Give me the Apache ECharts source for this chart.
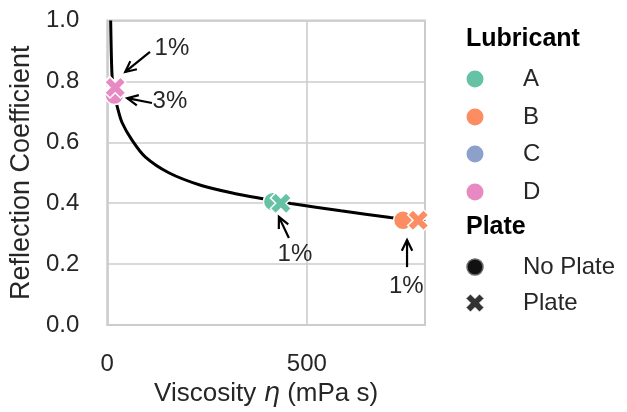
<!DOCTYPE html>
<html><head><meta charset="utf-8">
<script src="https://cdn.jsdelivr.net/npm/echarts@6/dist/echarts.min.js"></script>
<style>html,body{margin:0;padding:0;background:#fff}#c{width:627px;height:412px}</style>
</head><body><div id="c"></div>
<script>
// ---- data ----
const lubricants = ['A', 'B', 'C', 'D'];
const lubricantColors = ['#66c2a5', '#fc8d62', '#8da0cb', '#e78ac3'];
const plateLabels = ['No Plate', 'Plate'];
const viscNoPlate = [415, 741, 17, 18];
const reflNoPlate = [0.405, 0.344, 0.76, 0.755];
const viscPlate = [435, 779, 19, 20];
const reflPlate = [0.400, 0.344, 0.782, 0.78];
const fitVisc = [8.5, 9.5, 11, 13, 17, 25, 37, 62, 95, 154, 236, 318, 393, 460, 585, 709, 796];
const fitRefl = [1.0, 0.93, 0.85, 0.80, 0.76, 0.717, 0.665, 0.607, 0.552, 0.50, 0.458, 0.432, 0.414, 0.399, 0.375, 0.353, 0.340];
const annoLabels = ['1%', '3%', '1%', '1%'];
const annoTextVisc = [162, 157, 470, 749];
const annoTextRefl = [0.910, 0.736, 0.233, 0.128];
const annoTailVisc = [107, 112, 455, 751];
const annoTailRefl = [0.897, 0.729, 0.286, 0.190];
const annoHeadVisc = [45, 50, 430, 751];
const annoHeadRefl = [0.831, 0.745, 0.355, 0.279];
const xTicks = [0, 500];
const yTicks = [0, 0.2, 0.4, 0.6, 0.8, 1.0];

// ---- helpers ----
const FONT = "'Liberation Sans', Arial, sans-serif";
const TXT = '#262626';
const plusVerts = [[-1,-3],[1,-3],[1,-1],[3,-1],[3,1],[1,1],[1,3],[-1,3],[-1,1],[-3,1],[-3,-1],[-1,-1]];
const xVerts = plusVerts.map(([x, y]) => [(x - y) / Math.SQRT2, (x + y) / Math.SQRT2]);
const xPath = 'path://M' + xVerts.map(p => p[0].toFixed(3) + ',' + p[1].toFixed(3)).join('L') + 'Z';

const chart = echarts.init(document.getElementById('c'), null, {renderer: 'canvas'});

const series = [{
  type: 'line', name: 'fit', data: fitVisc.map((v, i) => [v, fitRefl[i]]),
  showSymbol: false, smooth: 0.3, clip: true,
  lineStyle: {color: '#000', width: 3}, z: 2, silent: true
}];
lubricants.forEach((name, i) => {
  series.push({
    type: 'scatter', name: name, z: 3 + i, clip: true,
    itemStyle: {color: lubricantColors[i], borderColor: '#fff', borderWidth: 1.5, opacity: 1},
    data: [
      {value: [viscNoPlate[i], reflNoPlate[i]], symbol: 'circle', symbolSize: 19},
      {value: [viscPlate[i], reflPlate[i]], symbol: xPath, symbolSize: 21}
    ]
  });
});
series.push({
  type: 'custom', name: 'annotations', coordinateSystem: 'cartesian2d', clip: false, z: 10, silent: true,
  encode: {x: [0, 2, 4], y: [1, 3, 5]},
  data: annoLabels.map((t, i) => [annoTextVisc[i], annoTextRefl[i], annoTailVisc[i], annoTailRefl[i], annoHeadVisc[i], annoHeadRefl[i], i]),
  renderItem: function (params, api) {
    const t = api.coord([api.value(0), api.value(1)]);
    const a = api.coord([api.value(2), api.value(3)]);
    const h = api.coord([api.value(4), api.value(5)]);
    const idx = api.value(6);
    const ang = Math.atan2(h[1] - a[1], h[0] - a[0]);
    const L = 12, w = 0.45;
    const p1 = [h[0] - L * Math.cos(ang - w), h[1] - L * Math.sin(ang - w)];
    const p2 = [h[0] - L * Math.cos(ang + w), h[1] - L * Math.sin(ang + w)];
    return {type: 'group', children: [
      {type: 'line', shape: {x1: a[0], y1: a[1], x2: h[0], y2: h[1]}, style: {stroke: '#000', lineWidth: 2.2}},
      {type: 'polyline', shape: {points: [p1, h, p2]}, style: {stroke: '#000', lineWidth: 2.2, fill: null}},
      {type: 'text', style: {text: annoLabels[idx], x: t[0], y: t[1], align: 'center', verticalAlign: 'middle', fill: TXT, font: '24px ' + FONT}}
    ]};
  }
});

// legend as graphics
const lgX = 466, lgMarkX = 475, lgTextX = 523;
const lgRows = [40, 79, 117, 154, 192, 228, 267, 303];
const graphics = [];
graphics.push({type: 'text', left: lgX, top: lgRows[0] - 13, style: {text: 'Lubricant', fill: '#000', font: 'bold 25px ' + FONT}});
lubricants.forEach((name, i) => {
  const y = lgRows[1 + i];
  graphics.push({type: 'circle', shape: {cx: lgMarkX, cy: y, r: 8.5}, style: {fill: lubricantColors[i]}});
  graphics.push({type: 'text', x: lgTextX, y: y, style: {text: name, fill: TXT, font: '24px ' + FONT, verticalAlign: 'middle'}});
});
graphics.push({type: 'text', left: lgX, top: lgRows[5] - 13, style: {text: 'Plate', fill: '#000', font: 'bold 25px ' + FONT}});
graphics.push({type: 'circle', shape: {cx: lgMarkX, cy: lgRows[6], r: 8}, style: {fill: '#111', stroke: '#666', lineWidth: 1.5}});
graphics.push({type: 'polygon', shape: {points: xVerts.map(([x, y]) => [lgMarkX + x * 3.2, lgRows[7] + y * 3.2])}, style: {fill: '#333', stroke: '#fff', lineWidth: 1}});
plateLabels.forEach((name, i) => {
  graphics.push({type: 'text', x: lgTextX, y: lgRows[6 + i], style: {text: name, fill: TXT, font: '24px ' + FONT, verticalAlign: 'middle'}});
});

chart.setOption({
  animation: false,
  backgroundColor: '#fff',
  textStyle: {fontFamily: FONT},
  grid: {left: 105, right: 202, top: 20.5, bottom: 87, show: true, borderColor: '#cccccc', borderWidth: 2, backgroundColor: 'transparent'},
  xAxis: {
    type: 'value', min: xTicks[0], max: 796, interval: xTicks[1] - xTicks[0],
    name: '{a|Viscosity }{b|η}{a| (mPa s)}', nameLocation: 'middle', nameGap: 50,
    nameTextStyle: {rich: {a: {fontSize: 26, color: TXT, fontFamily: FONT}, b: {fontSize: 26, color: TXT, fontFamily: 'DejaVu Sans', fontStyle: 'italic'}}},
    axisLine: {show: false}, axisTick: {show: false},
    axisLabel: {fontSize: 24, color: TXT, margin: 27, showMaxLabel: false, formatter: v => xTicks.includes(v) ? String(v) : ''},
    splitLine: {show: true, lineStyle: {color: '#cccccc', width: 1.6}}
  },
  yAxis: {
    type: 'value', min: yTicks[0], max: yTicks[yTicks.length - 1], interval: yTicks[1] - yTicks[0],
    name: 'Reflection Coefficient', nameLocation: 'middle', nameGap: 66,
    nameTextStyle: {fontSize: 27, color: TXT},
    axisLine: {show: false}, axisTick: {show: false},
    axisLabel: {fontSize: 24, color: TXT, margin: 28, formatter: v => v.toFixed(1)},
    splitLine: {show: true, lineStyle: {color: '#cccccc', width: 1.6}}
  },
  series: series,
  graphic: graphics
});
</script></body></html>
